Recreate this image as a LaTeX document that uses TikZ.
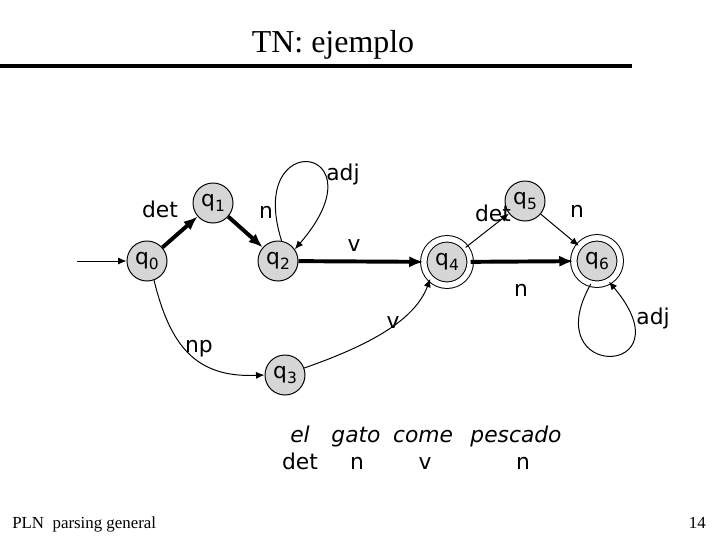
\documentclass[tikz,border=0pt]{standalone}
\usepackage{fontspec}
\setmainfont{Liberation Serif}
\setsansfont{DejaVu Sans}
\usetikzlibrary{arrows.meta}

\definecolor{stfill}{RGB}{214,214,214}
\newcommand{\labfont}{\sffamily\fontsize{15.5}{17}\selectfont}
\newcommand{\stq}[1]{q\raisebox{-0.45ex}{\fontsize{11}{11}\selectfont #1}}

\begin{document}
\begin{tikzpicture}[x=0.025cm, y=-0.025cm,
        state/.style={circle, draw, line width=0.7pt, fill=stfill, minimum size=1cm, inner sep=0pt, font=\labfont},
        final/.style={state, double, double distance=3.9pt, minimum size=1.16cm},
        lbl/.style={font=\labfont, inner sep=0pt, anchor=base},
        arcthin/.style={line width=0.7pt, -{Latex[length=6pt,width=5pt]}},
        arcbold/.style={line width=2.8pt, -{Latex[length=10pt,width=8pt]}}]
        \useasboundingbox (0,0) rectangle (720,540);

        % Title
        \node[font=\fontsize{22.7}{26}\selectfont, anchor=base] (title) at (333,52) {TN: ejemplo};
        \draw[line width=3.5pt] (0,66) -- (632,66);

        % States
        \node[state] (q0) at (147,261) {\stq{0}};
        \node[state] (q1) at (213,203) {\stq{1}};
        \node[state] (q2) at (278,261) {\stq{2}};
        \node[state] (q3) at (285,375) {\stq{3}};
        \node[final] (q4) at (447,262) {\stq{4}};
        \node[state] (q5) at (525,201) {\stq{5}};
        \node[final] (q6) at (597,261) {\stq{6}};
        \coordinate (start) at (77,261);

        % Transitions
        \draw[arcthin] (start) -- (q0);
        \draw[arcbold] (q0) -- (q1);
        \draw[arcbold] (q1) -- (q2);
        \draw[arcbold] (q2) -- (q4);
        \draw[arcthin] (q4) -- (q5);
        \draw[arcthin] (q5) -- (q6);
        \draw[arcbold] (q4) -- (q6);
        \draw[arcthin] (q2.80) .. controls (245,125) and (385,145) .. (q2.35);
        \draw[arcthin] (q0.290) .. controls (170,345) and (195,378) .. (q3.west);
        \draw[arcthin] (q3.20) .. controls (370,345) and (415,320) .. (q4.225);
        \draw[arcthin] (q6.255) .. controls (535,382) and (690,378) .. (q6.300);

        % Arc labels
        \node[lbl] (l01) at (160,217) {det};
        \node[lbl] (l12) at (266,218) {n};
        \node[lbl] (l22) at (343,180) {adj};
        \node[lbl] (l24) at (354,251) {v};
        \node[lbl] (l45) at (493,221) {det};
        \node[lbl] (l56) at (577,217) {n};
        \node[lbl] (l46) at (521,296) {n};
        \node[lbl] (l66) at (653,324) {adj};
        \node[lbl] (l34) at (393,328) {v};
        \node[lbl] (l03) at (199,352) {np};

        % Example sentence
        \node[lbl, font=\labfont\itshape] (w1) at (300,442) {el};
        \node[lbl, font=\labfont\itshape] (w2) at (356,442) {gato};
        \node[lbl, font=\labfont\itshape] (w3) at (423,442) {come};
        \node[lbl, font=\labfont\itshape] (w4) at (516,442) {pescado};
        \node[lbl] (c1) at (300,469) {det};
        \node[lbl] (c2) at (357,469) {n};
        \node[lbl] (c3) at (425,469) {v};
        \node[lbl] (c4) at (523,469) {n};

        % Footer
        \node[font=\fontsize{12}{14}\selectfont, anchor=base west, inner sep=0pt] (foot) at (12,528) {PLN\ \ parsing general};
        \node[font=\fontsize{12}{14}\selectfont, anchor=base east, inner sep=0pt] (page) at (706,528) {14};
    \end{tikzpicture}
\end{document}
